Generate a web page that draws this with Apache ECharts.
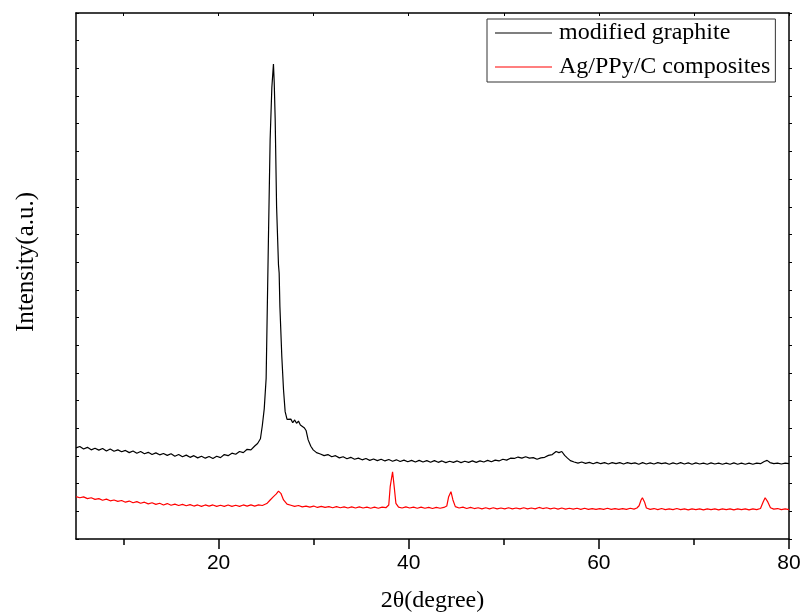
<!DOCTYPE html>
<html>
<head>
<meta charset="utf-8">
<script src="https://cdn.jsdelivr.net/npm/echarts@6/dist/echarts.min.js"></script>
<style>
html, body { margin: 0; padding: 0; background: #fff; }
#xrd { width: 803px; height: 615px; }
</style>
</head>
<body>
<div id="xrd"></div>
<script>
var seriesNames = ['modified graphite', 'Ag/PPy/C composites'];
var majorTicks = [20, 40, 60, 80];
var minorTicks = [10, 30, 50, 70];
var topTicks = [10, 20, 30, 40, 50, 60, 70, 80];

// [2theta, intensity] (arbitrary units, 0..19 = axis height)
var graphite = [
	[5.0,3.29],[5.4,3.34],[5.8,3.25],[6.2,3.31],[6.6,3.22],[7.0,3.28],[7.4,3.21],[7.8,3.27],[8.2,3.18],[8.6,3.25],
	[9.0,3.17],[9.4,3.22],[9.8,3.15],[10.2,3.20],[10.6,3.12],[11.0,3.18],[11.4,3.10],[11.8,3.16],[12.2,3.08],[12.6,3.13],
	[13.0,3.05],[13.4,3.11],[13.8,3.04],[14.2,3.09],[14.6,3.02],[15.0,3.08],[15.4,2.99],[15.8,3.05],[16.2,2.97],[16.6,3.03],
	[17.0,2.95],[17.4,3.01],[17.8,2.93],[18.2,2.99],[18.6,2.92],[19.0,2.98],[19.4,2.91],[19.8,2.99],[20.2,2.94],[20.6,3.05],
	[21.0,3.01],[21.4,3.10],[21.8,3.06],[22.2,3.16],[22.6,3.12],[23.0,3.24],[23.4,3.22],[23.8,3.36],[24.1,3.45],[24.4,3.62],
	[24.6,4.10],[24.8,4.70],[25.0,5.80],[25.24,10.80],[25.42,14.41],[25.6,16.3],[25.77,17.16],[25.85,16.5],[25.95,15.2],[26.1,12.0],
	[26.3,9.90],[26.37,9.61],[26.45,8.38],[26.65,6.58],[26.83,5.38],[27.0,4.60],[27.2,4.32],[27.4,4.25],[27.6,4.33],[27.8,4.20],
	[28.0,4.30],[28.2,4.18],[28.4,4.26],[28.6,4.12],[28.8,4.16],[29.0,4.02],[29.2,3.92],[29.42,3.58],[29.7,3.35],[29.95,3.22],
	[30.3,3.12],[30.7,3.07],[31.1,3.01],[31.5,3.05],[31.9,2.97],[32.3,3.01],[32.7,2.93],[33.1,2.97],[33.5,2.90],[33.9,2.95],
	[34.3,2.88],[34.7,2.92],[35.1,2.86],[35.5,2.91],[35.9,2.84],[36.3,2.89],[36.7,2.83],[37.1,2.88],[37.5,2.82],[37.9,2.87],
	[38.3,2.81],[38.7,2.86],[39.1,2.80],[39.5,2.85],[39.9,2.79],[40.3,2.84],[40.7,2.78],[41.1,2.84],[41.5,2.78],[41.9,2.83],
	[42.3,2.77],[42.7,2.83],[43.1,2.77],[43.5,2.82],[43.9,2.76],[44.3,2.81],[44.7,2.77],[45.1,2.82],[45.5,2.76],[45.9,2.81],
	[46.3,2.77],[46.7,2.82],[47.1,2.77],[47.5,2.82],[47.9,2.78],[48.3,2.84],[48.7,2.79],[49.1,2.85],[49.5,2.82],[49.9,2.88],
	[50.3,2.85],[50.7,2.92],[51.1,2.91],[51.5,2.96],[51.9,2.92],[52.3,2.97],[52.7,2.92],[53.1,2.94],[53.5,2.88],[53.9,2.93],
	[54.3,2.95],[54.7,3.02],[55.1,3.05],[55.5,3.16],[55.8,3.12],[56.1,3.16],[56.4,3.02],[56.7,2.92],[57.0,2.83],[57.4,2.78],
	[57.8,2.74],[58.2,2.78],[58.6,2.73],[59.0,2.77],[59.4,2.72],[59.8,2.77],[60.2,2.72],[60.6,2.76],[61.0,2.71],[61.4,2.76],
	[61.8,2.72],[62.2,2.76],[62.6,2.71],[63.0,2.76],[63.4,2.72],[63.8,2.75],[64.2,2.70],[64.6,2.76],[65.0,2.71],[65.4,2.75],
	[65.8,2.71],[66.2,2.76],[66.6,2.72],[67.0,2.75],[67.4,2.70],[67.8,2.75],[68.2,2.71],[68.6,2.76],[69.0,2.71],[69.4,2.75],
	[69.8,2.70],[70.2,2.75],[70.6,2.71],[71.0,2.74],[71.4,2.70],[71.8,2.75],[72.2,2.71],[72.6,2.74],[73.0,2.70],[73.4,2.74],
	[73.8,2.70],[74.2,2.75],[74.6,2.70],[75.0,2.74],[75.4,2.70],[75.8,2.74],[76.2,2.70],[76.6,2.74],[77.0,2.72],[77.4,2.80],
	[77.7,2.84],[78.0,2.76],[78.4,2.72],[78.8,2.74],[79.2,2.71],[79.6,2.74],[80.0,2.72]
];

var composite = [
	[5.0,1.53],[5.4,1.49],[5.8,1.52],[6.2,1.46],[6.6,1.49],[7.0,1.43],[7.4,1.46],[7.8,1.40],[8.2,1.44],[8.6,1.38],
	[9.0,1.41],[9.4,1.36],[9.8,1.39],[10.2,1.33],[10.6,1.37],[11.0,1.31],[11.4,1.35],[11.8,1.29],[12.2,1.33],[12.6,1.27],
	[13.0,1.31],[13.4,1.25],[13.8,1.29],[14.2,1.23],[14.6,1.28],[15.0,1.22],[15.4,1.26],[15.8,1.21],[16.2,1.25],[16.6,1.20],
	[17.0,1.24],[17.4,1.19],[17.8,1.23],[18.2,1.18],[18.6,1.23],[19.0,1.19],[19.4,1.23],[19.8,1.18],[20.2,1.22],[20.6,1.18],
	[21.0,1.23],[21.4,1.18],[21.8,1.22],[22.2,1.18],[22.6,1.23],[23.0,1.19],[23.4,1.23],[23.8,1.19],[24.2,1.23],[24.6,1.21],
	[25.07,1.28],[25.4,1.40],[25.77,1.53],[26.05,1.62],[26.3,1.73],[26.55,1.65],[26.83,1.41],[27.2,1.26],[27.6,1.22],[28.0,1.18],
	[28.4,1.21],[28.8,1.16],[29.2,1.19],[29.6,1.15],[30.0,1.19],[30.4,1.14],[30.8,1.18],[31.2,1.14],[31.6,1.17],[32.0,1.13],
	[32.4,1.17],[32.8,1.13],[33.2,1.16],[33.6,1.12],[34.0,1.16],[34.4,1.12],[34.8,1.16],[35.2,1.12],[35.6,1.15],[36.0,1.11],
	[36.4,1.15],[36.8,1.11],[37.2,1.15],[37.6,1.13],[37.9,1.23],[38.05,1.89],[38.3,2.43],[38.47,1.89],[38.65,1.29],[38.93,1.15],
	[39.3,1.12],[39.7,1.16],[40.1,1.12],[40.5,1.15],[40.9,1.11],[41.3,1.15],[41.7,1.11],[42.1,1.14],[42.5,1.10],[42.9,1.14],
	[43.3,1.11],[43.7,1.14],[44.0,1.19],[44.2,1.53],[44.44,1.71],[44.65,1.41],[44.9,1.17],[45.3,1.12],[45.7,1.15],[46.1,1.10],
	[46.5,1.14],[46.9,1.10],[47.3,1.13],[47.7,1.09],[48.1,1.13],[48.5,1.09],[48.9,1.13],[49.3,1.09],[49.7,1.12],[50.1,1.09],
	[50.5,1.13],[50.9,1.09],[51.3,1.12],[51.7,1.09],[52.1,1.13],[52.5,1.09],[52.9,1.12],[53.3,1.09],[53.7,1.14],[54.1,1.10],
	[54.5,1.13],[54.9,1.09],[55.3,1.12],[55.7,1.08],[56.1,1.12],[56.5,1.08],[56.9,1.11],[57.3,1.08],[57.7,1.11],[58.1,1.07],
	[58.5,1.11],[58.9,1.07],[59.3,1.10],[59.7,1.07],[60.1,1.10],[60.5,1.07],[60.9,1.11],[61.3,1.07],[61.7,1.10],[62.1,1.07],
	[62.5,1.10],[62.9,1.07],[63.3,1.11],[63.7,1.08],[64.0,1.12],[64.23,1.20],[64.44,1.41],[64.58,1.49],[64.8,1.34],[65.0,1.12],
	[65.4,1.07],[65.8,1.10],[66.2,1.06],[66.6,1.10],[67.0,1.06],[67.4,1.09],[67.8,1.06],[68.2,1.10],[68.6,1.06],[69.0,1.09],
	[69.4,1.05],[69.8,1.09],[70.2,1.06],[70.6,1.09],[71.0,1.05],[71.4,1.09],[71.8,1.06],[72.2,1.09],[72.6,1.05],[73.0,1.09],
	[73.4,1.06],[73.8,1.09],[74.2,1.05],[74.6,1.09],[75.0,1.06],[75.4,1.09],[75.8,1.05],[76.2,1.09],[76.6,1.06],[77.0,1.10],
	[77.28,1.34],[77.49,1.49],[77.77,1.34],[78.05,1.13],[78.4,1.08],[78.8,1.10],[79.2,1.06],[79.6,1.09],[80.0,1.06]
];

var serif = '"Liberation Serif", "Times New Roman", serif';
var sans = '"Liberation Sans", Arial, sans-serif';
var axisLine = { show: true, onZero: false, lineStyle: { color: '#000', width: 1.5 } };

var myChart = echarts.init(document.getElementById('xrd'));

var option = {
	animation: false,
	backgroundColor: '#fff',
	grid: { left: 76, right: 14, top: 13, bottom: 76, outerBoundsMode: 'none' },
	legend: {
		data: seriesNames.map(function (n) { return { name: n, icon: 'rect' }; }),
		orient: 'vertical',
		left: 487,
		top: 19,
		padding: [2, 5, 3, 8],
		itemGap: 10,
		itemWidth: 57,
		itemHeight: 1,
		borderColor: '#333',
		borderWidth: 1,
		borderRadius: 0,
		textStyle: { fontFamily: serif, fontSize: 24, color: '#000', lineHeight: 24, padding: [0, 0, 0, 2] }
	},
	xAxis: [{
		type: 'value', min: 5, max: 80, position: 'bottom',
		name: '2θ(degree)', nameLocation: 'middle', nameGap: 50,
		nameTextStyle: { fontFamily: serif, fontSize: 24, color: '#000' },
		axisLine: axisLine,
		axisTick: { show: true, customValues: majorTicks, length: 10, lineStyle: { color: '#000', width: 1.5 } },
		axisLabel: { customValues: majorTicks, margin: 14, fontFamily: sans, fontSize: 21, color: '#000' },
		splitLine: { show: false }
	}, {
		type: 'value', min: 5, max: 80, position: 'bottom',
		axisLine: { show: false },
		axisTick: { show: true, customValues: minorTicks, length: 6, lineStyle: { color: '#000', width: 1.5 } },
		axisLabel: { show: false },
		splitLine: { show: false }
	}, {
		type: 'value', min: 5, max: 80, position: 'top',
		axisLine: axisLine,
		axisTick: { show: true, inside: true, customValues: topTicks, length: 3, lineStyle: { color: '#000', width: 1 } },
		axisLabel: { show: false },
		splitLine: { show: false }
	}],
	yAxis: [{
		type: 'value', min: 0, max: 19, interval: 1, position: 'left',
		name: 'Intensity(a.u.)', nameLocation: 'middle', nameGap: 37,
		nameTextStyle: { fontFamily: serif, fontSize: 25, color: '#000', padding: [0, 0, 0, 28] },
		axisLine: axisLine,
		axisTick: { show: true, inside: true, length: 3, lineStyle: { color: '#000', width: 1 } },
		axisLabel: { show: false },
		splitLine: { show: false }
	}, {
		type: 'value', min: 0, max: 19, interval: 1, position: 'right',
		axisLine: axisLine,
		axisTick: { show: true, inside: false, length: 3, lineStyle: { color: '#000', width: 1 } },
		axisLabel: { show: false },
		splitLine: { show: false }
	}],
	series: [{
		name: seriesNames[0],
		type: 'line',
		xAxisIndex: 0,
		yAxisIndex: 0,
		symbol: 'none',
		itemStyle: { color: '#000' },
		lineStyle: { color: '#000', width: 1.2 },
		data: graphite
	}, {
		name: seriesNames[1],
		type: 'line',
		xAxisIndex: 0,
		yAxisIndex: 0,
		symbol: 'none',
		itemStyle: { color: '#ff0000' },
		lineStyle: { color: '#ff0000', width: 1.2 },
		data: composite
	}]
};

myChart.setOption(option);
</script>
</body>
</html>
